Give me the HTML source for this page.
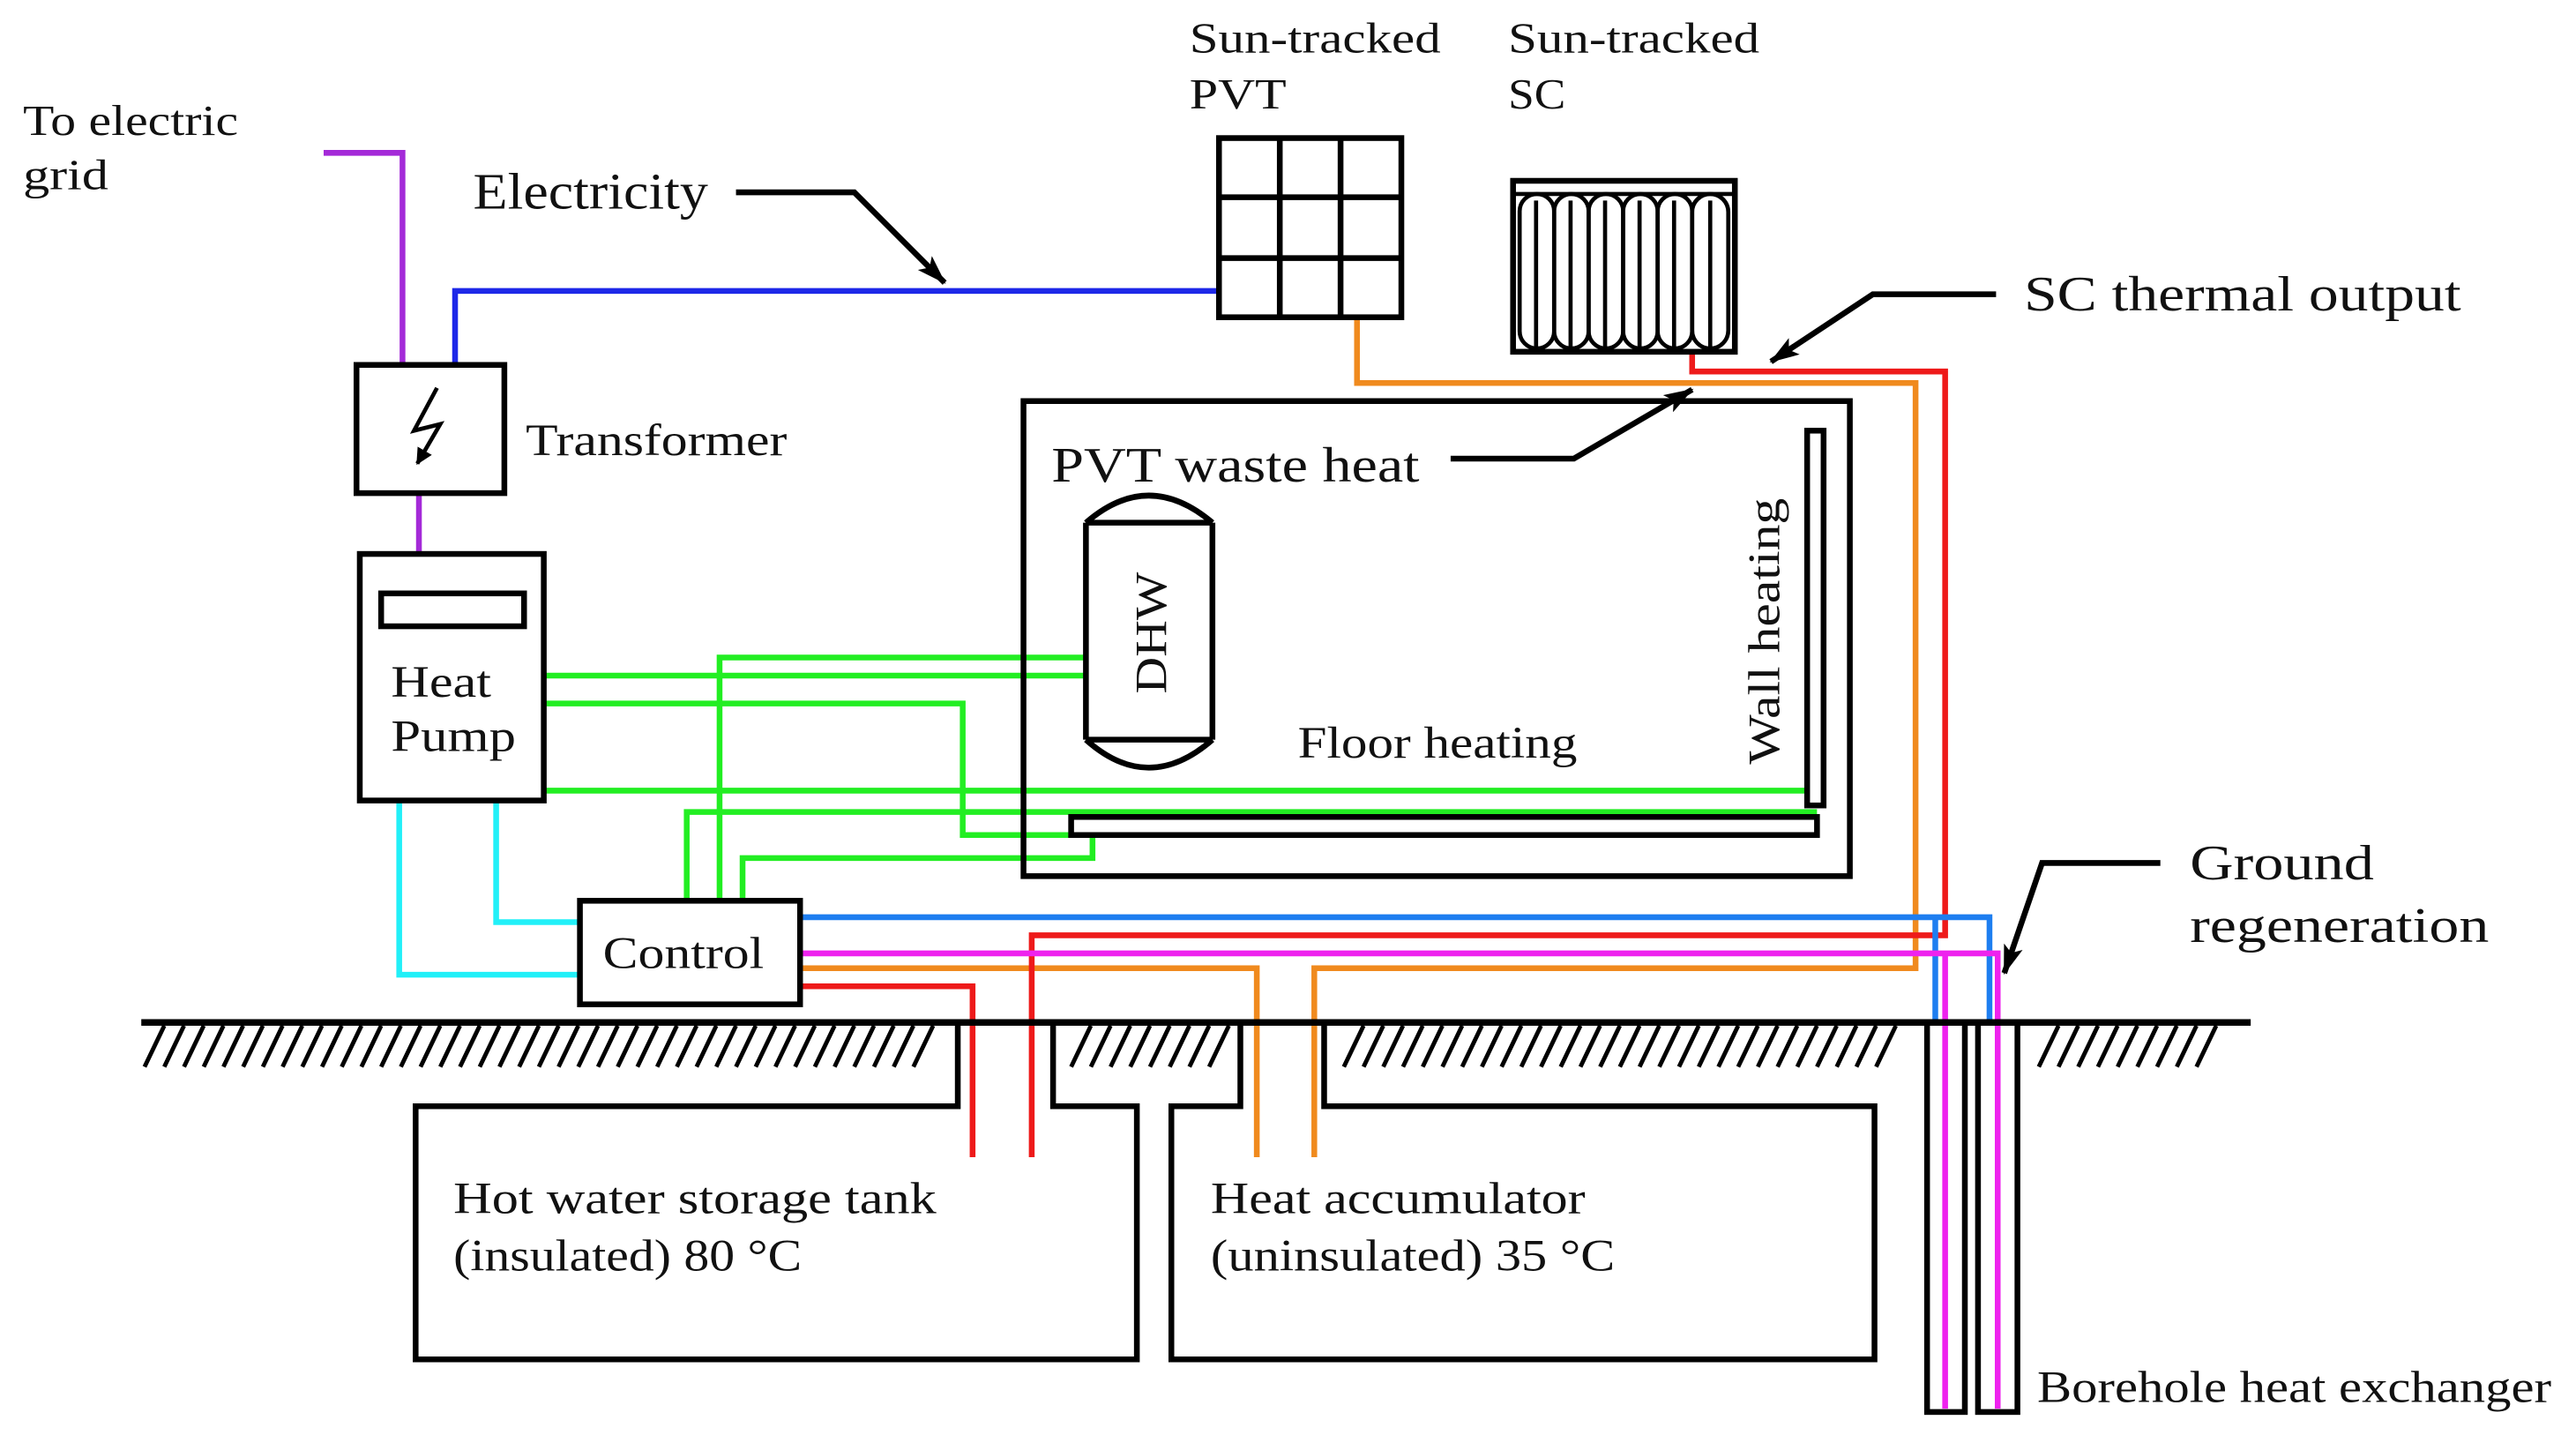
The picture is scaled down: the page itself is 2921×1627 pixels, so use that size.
<!DOCTYPE html>
<html><head><meta charset="utf-8"><style>
html,body{margin:0;padding:0;background:#fff;}
svg{display:block;}
text{font-family:"Liberation Serif",serif;fill:#111;}
</style></head><body>
<svg width="2921" height="1627" viewBox="0 0 1568 873" preserveAspectRatio="none" xmlns="http://www.w3.org/2000/svg">
<defs>
<marker id="ahb" markerWidth="18" markerHeight="12" refX="17" refY="6" orient="auto" markerUnits="userSpaceOnUse"><path d="M0,0 L18,6 L0,12 L4,6 z" fill="#000"/></marker>
<marker id="ah" markerWidth="10" markerHeight="10" refX="9" refY="5" orient="auto" markerUnits="userSpaceOnUse"><path d="M0,0 L10,5 L0,10 z" fill="#000"/></marker>
</defs>
<rect width="1568" height="873" fill="#fff"/>

<g lengthAdjust="spacingAndGlyphs">
<text x="14" y="82" font-size="26" textLength="131" lengthAdjust="spacingAndGlyphs">To electric</text>
<text x="14" y="115" font-size="26" textLength="52" lengthAdjust="spacingAndGlyphs">grid</text>
<text x="288" y="127" font-size="31" textLength="143" lengthAdjust="spacingAndGlyphs">Electricity</text>
<text x="724" y="32" font-size="26" textLength="153" lengthAdjust="spacingAndGlyphs">Sun-tracked</text>
<text x="724" y="66" font-size="26" textLength="59" lengthAdjust="spacingAndGlyphs">PVT</text>
<text x="918" y="32" font-size="26" textLength="153" lengthAdjust="spacingAndGlyphs">Sun-tracked</text>
<text x="918" y="66" font-size="26" textLength="35" lengthAdjust="spacingAndGlyphs">SC</text>
<text x="1232" y="189" font-size="30" textLength="266" lengthAdjust="spacingAndGlyphs">SC thermal output</text>
<text x="320" y="277" font-size="27" textLength="159" lengthAdjust="spacingAndGlyphs">Transformer</text>
<text x="640" y="293" font-size="30" textLength="224" lengthAdjust="spacingAndGlyphs">PVT waste heat</text>
<text x="238" y="424" font-size="27" textLength="61" lengthAdjust="spacingAndGlyphs">Heat</text>
<text x="238" y="457" font-size="27" textLength="76" lengthAdjust="spacingAndGlyphs">Pump</text>
<text x="790" y="461" font-size="27" textLength="170" lengthAdjust="spacingAndGlyphs">Floor heating</text>
<text x="0" y="0" font-size="27" transform="translate(1083,465) rotate(-90)" textLength="162" lengthAdjust="spacingAndGlyphs">Wall heating</text>
<text x="0" y="0" font-size="27" transform="translate(710,422) rotate(-90)" textLength="74" lengthAdjust="spacingAndGlyphs">DHW</text>
<text x="367" y="589" font-size="27" textLength="98" lengthAdjust="spacingAndGlyphs">Control</text>
<text x="1333" y="535" font-size="30" textLength="112" lengthAdjust="spacingAndGlyphs">Ground</text>
<text x="1333" y="573" font-size="30" textLength="182" lengthAdjust="spacingAndGlyphs">regeneration</text>
<text x="276" y="738" font-size="27" textLength="294" lengthAdjust="spacingAndGlyphs">Hot water storage tank</text>
<text x="276" y="773" font-size="27" textLength="212" lengthAdjust="spacingAndGlyphs">(insulated) 80 °C</text>
<text x="737" y="738" font-size="27" textLength="228" lengthAdjust="spacingAndGlyphs">Heat accumulator</text>
<text x="737" y="773" font-size="27" textLength="246" lengthAdjust="spacingAndGlyphs">(uninsulated) 35 °C</text>
<text x="1240" y="853" font-size="27" textLength="313" lengthAdjust="spacingAndGlyphs">Borehole heat exchanger</text>
</g>

<g fill="none" stroke-width="3.5" stroke-linejoin="miter">
<path d="M197,93 H245 V222" stroke="#a42ad8"/>
<path d="M255,300 V337" stroke="#a42ad8"/>
<path d="M277,222 V177 H742" stroke="#1e28e8"/>
<g stroke="#22ee22">
<path d="M331,411 H660"/>
<path d="M438,548 V400 H660"/>
<path d="M331,428 H586 V508 H652"/>
<path d="M331,481 H1100"/>
<path d="M418,548 V494 H1106"/>
<path d="M452,548 V522 H665 V509"/>
</g>
<path d="M243,487 V593 H353" stroke="#22f0f8"/>
<path d="M302,487 V561 H353" stroke="#22f0f8"/>
<path d="M826,193 V233 H1166 V589 H800 V704" stroke="#f08a1e"/>
<path d="M487,589 H765 V704" stroke="#f08a1e"/>
<path d="M1030,214 V226 H1184 V569 H628 V704" stroke="#ee1a1a"/>
<path d="M487,600 H592 V704" stroke="#ee1a1a"/>
<path d="M487,558 H1211 V622" stroke="#1e7ef0"/>
<path d="M1178,558 V622" stroke="#1e7ef0"/>
<path d="M487,580 H1216 V857" stroke="#ee22ee"/>
<path d="M1184,580 V857" stroke="#ee22ee"/>
</g>

<g fill="none" stroke="#000" stroke-width="3.5">
<rect x="217" y="222" width="90" height="78"/>
<path d="M266,236 L252,262 L268,258 L254,282" stroke-width="2.5" marker-end="url(#ah)"/>
<rect x="219" y="337" width="112" height="150"/>
<rect x="232" y="361" width="87" height="20"/>
<rect x="742" y="84" width="111" height="109"/>
<path d="M779,84 V193 M816,84 V193 M742,120 H853 M742,157 H853"/>
<rect x="921" y="110" width="135" height="104"/>
<path d="M921,118 H1056" stroke-width="2.5"/>
<g stroke-width="2.5">
<rect x="925" y="118" width="21" height="94" rx="10.5"/>
<rect x="946" y="118" width="21" height="94" rx="10.5"/>
<rect x="967" y="118" width="21" height="94" rx="10.5"/>
<rect x="988" y="118" width="21" height="94" rx="10.5"/>
<rect x="1009" y="118" width="21" height="94" rx="10.5"/>
<rect x="1030" y="118" width="22" height="94" rx="11"/>
<path d="M935,122 V212 M956,122 V212 M977,122 V212 M998,122 V212 M1019,122 V212 M1041,122 V212"/>
</g>
<rect x="623" y="244" width="503" height="289"/>
<rect x="1100" y="262" width="10" height="228"/>
<rect x="652" y="497" width="454" height="11"/>
<path d="M661,318 V450 M738,318 V450 M661,318 H738 M661,450 H738"/>
<path d="M661,318 Q699,285 738,318"/>
<path d="M661,450 Q699,484 738,450"/>
<rect x="353" y="548" width="134" height="63"/>
<path d="M448,117 H520 L575,172" marker-end="url(#ahb)"/>
<path d="M883,279 H958 L1030,237" marker-end="url(#ahb)"/>
<path d="M1215,179 H1140 L1078,220" marker-end="url(#ahb)"/>
<path d="M1315,525 H1243 L1220,592" marker-end="url(#ahb)"/>
<path d="M86,622 H1370" stroke-width="4"/>
<path d="M583,622 V673 H253 V827 H692 V673 H641 V622"/>
<path d="M755,622 V673 H713 V827 H1141 V673 H806 V622"/>
<rect x="1173" y="622" width="23" height="237"/>
<rect x="1204" y="622" width="24" height="237"/>
</g>

<g stroke="#000" stroke-width="2.6" fill="none">
<path d="
M88,649 l12,-25 M100,649 l12,-25 M112,649 l12,-25 M124,649 l12,-25 M136,649 l12,-25 M148,649 l12,-25 M160,649 l12,-25 M172,649 l12,-25 M184,649 l12,-25 M196,649 l12,-25 M208,649 l12,-25 M220,649 l12,-25 M232,649 l12,-25 M244,649 l12,-25 M256,649 l12,-25 M268,649 l12,-25 M280,649 l12,-25 M292,649 l12,-25 M304,649 l12,-25 M316,649 l12,-25 M328,649 l12,-25 M340,649 l12,-25 M352,649 l12,-25 M364,649 l12,-25 M376,649 l12,-25 M388,649 l12,-25 M400,649 l12,-25 M412,649 l12,-25 M424,649 l12,-25 M436,649 l12,-25 M448,649 l12,-25 M460,649 l12,-25 M472,649 l12,-25 M484,649 l12,-25 M496,649 l12,-25 M508,649 l12,-25 M520,649 l12,-25 M532,649 l12,-25 M544,649 l12,-25 M556,649 l12,-25
M652,649 l12,-25 M664,649 l12,-25 M676,649 l12,-25 M688,649 l12,-25 M700,649 l12,-25 M712,649 l12,-25 M724,649 l12,-25 M736,649 l12,-25
M818,649 l12,-25 M830,649 l12,-25 M842,649 l12,-25 M854,649 l12,-25 M866,649 l12,-25 M878,649 l12,-25 M890,649 l12,-25 M902,649 l12,-25 M914,649 l12,-25 M926,649 l12,-25 M938,649 l12,-25 M950,649 l12,-25 M962,649 l12,-25 M974,649 l12,-25 M986,649 l12,-25 M998,649 l12,-25 M1010,649 l12,-25 M1022,649 l12,-25 M1034,649 l12,-25 M1046,649 l12,-25 M1058,649 l12,-25 M1070,649 l12,-25 M1082,649 l12,-25 M1094,649 l12,-25 M1106,649 l12,-25 M1118,649 l12,-25 M1130,649 l12,-25 M1142,649 l12,-25
M1241,649 l12,-25 M1253,649 l12,-25 M1265,649 l12,-25 M1277,649 l12,-25 M1289,649 l12,-25 M1301,649 l12,-25 M1313,649 l12,-25 M1325,649 l12,-25 M1337,649 l12,-25"/>
</g>
</svg>
</body></html>
